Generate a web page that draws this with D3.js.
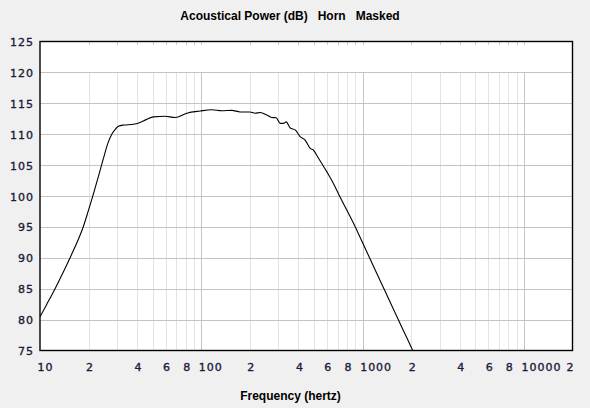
<!DOCTYPE html>
<html>
<head>
<meta charset="utf-8">
<script src="https://cdn.jsdelivr.net/npm/d3@7"></script>
<style>
  html, body { margin: 0; padding: 0; background: #f0f0f0; }
  svg { display: block; }
  .tick text { font-family: "DejaVu Sans", Verdana, sans-serif; font-size: 11px; fill: #1b1b3a; stroke: #1b1b3a; stroke-width: 0.35px; letter-spacing: 1px; }
</style>
</head>
<body>
<svg id="chart" width="590" height="408"></svg>
<script>
// ---- data ----
const freqs = [10, 11.0, 12.4, 13.95, 15.7, 17.3, 18.6, 19.9, 21.4, 23.0, 24.7, 26.5, 27.8, 29.2, 30.6, 32.9, 37.9, 41.7, 45.9, 50.5, 59.6, 68.8, 81.3, 98.3, 116, 134, 154.6, 174, 200, 215.6, 232, 254.9, 273.7, 291, 308, 323, 335.7, 356, 382, 410, 440, 473, 496, 533, 600, 660, 726, 799, 878, 1000, 1115, 1227, 1381, 1555, 1753, 2051, 2100];
const powerDb = [80.45, 82.45, 85.01, 87.7, 90.55, 93.01, 95.11, 97.54, 100.26, 103.13, 106.04, 108.71, 109.96, 110.75, 111.27, 111.48, 111.6, 111.9, 112.4, 112.8, 112.9, 112.7, 113.4, 113.75, 113.96, 113.8, 113.86, 113.6, 113.6, 113.4, 113.5, 113.1, 112.7, 112.65, 111.75, 111.75, 112.0, 111.0, 110.7, 109.6, 109.05, 107.7, 107.4, 106.1, 103.9, 102.0, 99.8, 97.7, 95.6, 92.43, 89.76, 87.42, 84.53, 81.65, 78.72, 74.9, 74.3];
const xTickValues = [10, 20, 40, 60, 80, 100, 200, 400, 600, 800, 1000, 2000, 4000, 6000, 8000, 10000, 20000];
const xTickLabels = ["10", "2", "4", "6", "8", "100", "2", "4", "6", "8", "1000", "2", "4", "6", "8", "10000", "2"];
const yTickValues = [75, 80, 85, 90, 95, 100, 105, 110, 115, 120, 125];
const yTickLabels = ["75", "80", "85", "90", "95", "100", "105", "110", "115", "120", "125"];
const titleText = "Acoustical Power (dB)   Horn   Masked";
const xAxisTitle = "Frequency (hertz)";

// ---- layout ----
const L = 40, R = 572.5, T = 41.5, B = 350.5;
const svg = d3.select("#chart");
const x = d3.scaleLog().domain([10, 20000]).range([L, R]);
const y = d3.scaleLinear().domain([75, 125]).range([B, T]);
const px = v => Math.round(v) + 0.5;

// plot background
svg.append("rect").attr("x", L).attr("y", T).attr("width", R - L).attr("height", B - T).attr("fill", "#ffffff");

// vertical grid (minor + major)
const gridFreqs = [];
[10, 100, 1000, 10000].forEach(d => { for (let m = 1; m <= 9; m++) { const f = d * m; if (f > 10 && f < 20000) gridFreqs.push(f); } });
const gv = svg.append("g").attr("shape-rendering", "crispEdges");
gv.selectAll("line.v").data(gridFreqs).join("line")
  .attr("x1", d => px(x(d))).attr("x2", d => px(x(d)))
  .attr("y1", y(120)).attr("y2", B)
  .attr("stroke", d => [100, 1000, 10000].includes(d) ? "#c4c4c4" : "#e4e4e4").attr("stroke-width", 1);
gv.selectAll("line.t").data(gridFreqs).join("line")
  .attr("x1", d => px(x(d))).attr("x2", d => px(x(d)))
  .attr("y1", T).attr("y2", T + 3)
  .attr("stroke", "#d0d0d0").attr("stroke-width", 1);

// horizontal grid
gv.selectAll("line.h").data(yTickValues.slice(1, -1)).join("line")
  .attr("x1", L).attr("x2", R)
  .attr("y1", d => px(y(d))).attr("y2", d => px(y(d)))
  .attr("stroke", "#c4c4c4").attr("stroke-width", 1);

// curve
svg.append("clipPath").attr("id", "clip").append("rect")
  .attr("x", L).attr("y", T).attr("width", R - L).attr("height", B - T);
const line = d3.line().x((d, i) => x(freqs[i])).y(d => y(d)).curve(d3.curveMonotoneX);
svg.append("path").datum(powerDb).attr("d", line)
  .attr("clip-path", "url(#clip)")
  .attr("fill", "none").attr("stroke", "#000").attr("stroke-width", 1.1);

// frame
svg.append("rect").attr("x", L).attr("y", T).attr("width", R - L).attr("height", B - T)
  .attr("fill", "none").attr("stroke", "#000").attr("stroke-width", 1.4);

// x axis
const xAxis = d3.axisBottom(x).tickValues(xTickValues).tickSize(0)
  .tickFormat((d, i) => xTickLabels[i]);
const gx = svg.append("g").attr("transform", `translate(0,${B})`).call(xAxis);
gx.select(".domain").remove();
gx.selectAll(".tick text")
  .attr("text-anchor", "start").attr("dy", null).attr("y", 20.5)
  .attr("x", (d, i) => i === xTickValues.length - 1 ? -6.5 : -3);

// y axis
const yAxis = d3.axisLeft(y).tickValues(yTickValues).tickSize(0)
  .tickFormat((d, i) => yTickLabels[i]);
const gy = svg.append("g").attr("transform", `translate(${L},0)`).call(yAxis);
gy.select(".domain").remove();
gy.selectAll(".tick text")
  .attr("text-anchor", "end").attr("dy", null).attr("y", 4).attr("x", -6);

// titles
svg.append("text").attr("x", 290).attr("y", 20).attr("text-anchor", "middle")
  .attr("font-family", "'Liberation Sans', Arial, sans-serif").attr("font-weight", "bold")
  .attr("font-size", "12px").attr("fill", "#000").style("white-space", "pre")
  .text(titleText);
svg.append("text").attr("x", 290.5).attr("y", 399.5).attr("text-anchor", "middle")
  .attr("font-family", "'Liberation Sans', Arial, sans-serif").attr("font-weight", "bold")
  .attr("font-size", "12px").attr("fill", "#000")
  .text(xAxisTitle);
</script>
</body>
</html>
